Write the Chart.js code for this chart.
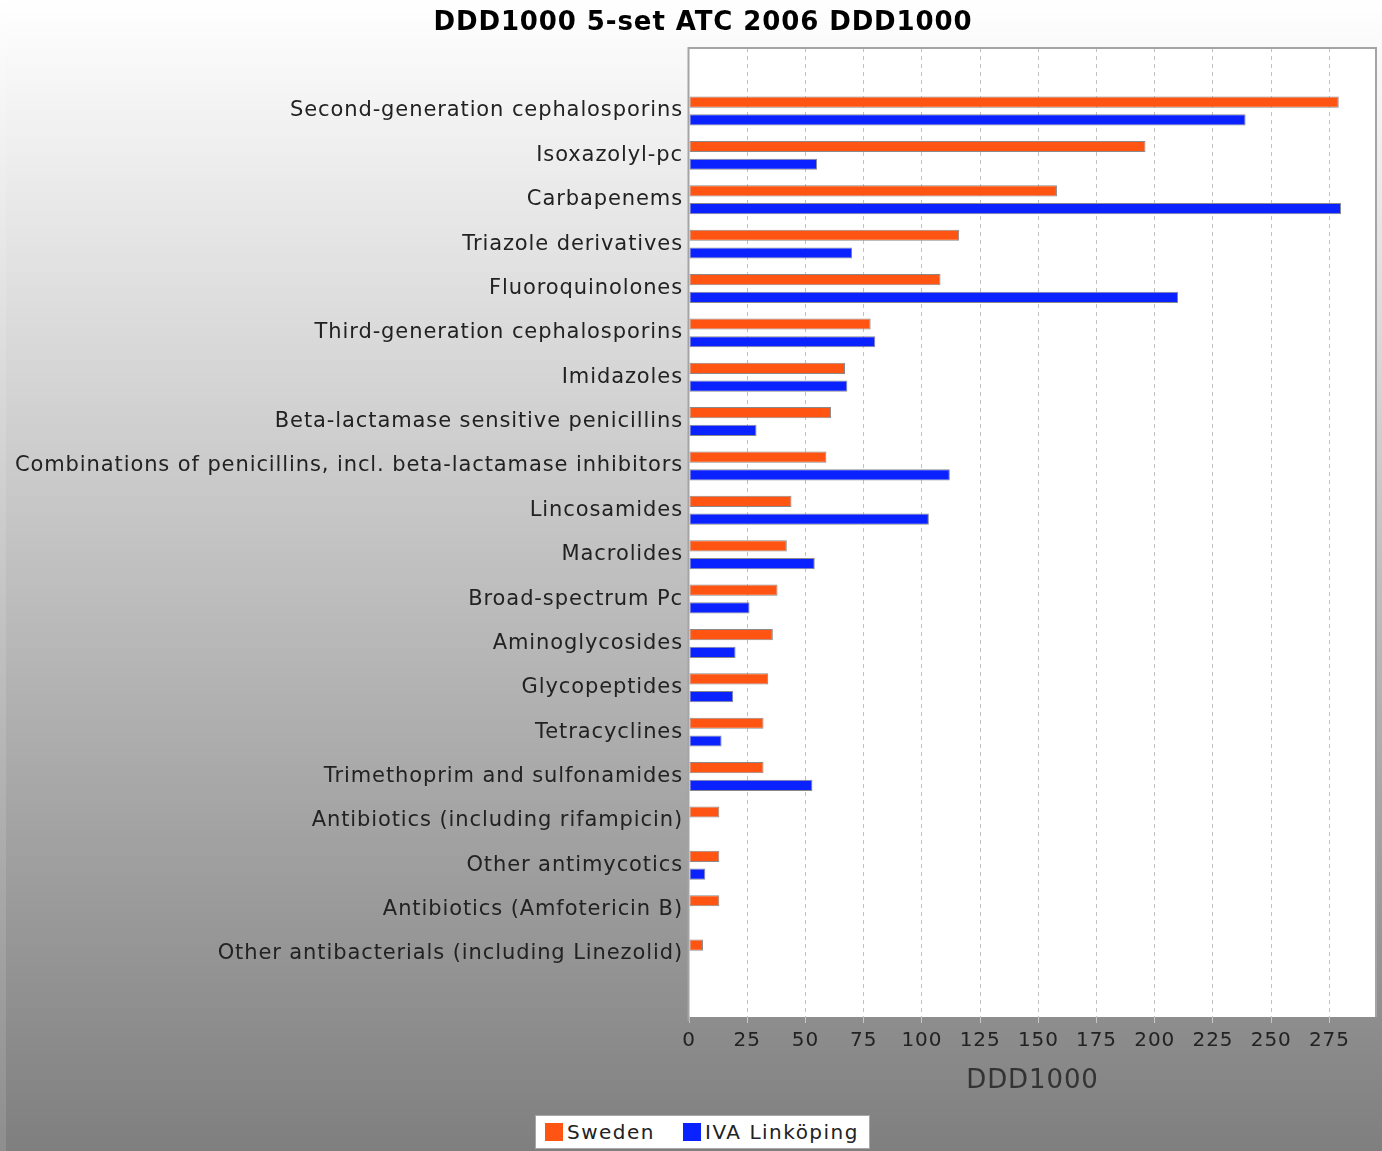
<!DOCTYPE html>
<html>
<head>
<meta charset="utf-8">
<script src="https://cdn.jsdelivr.net/npm/chart.js@4"></script>
<style>
  html, body { margin: 0; padding: 0; }
  body {
    width: 1382px; height: 1151px; overflow: hidden; position: relative;
    background: linear-gradient(#ffffff, #8e8e8e);
  }
  #wrap { position: absolute; left: 6px; top: 0; width: 1376px; height: 1151px; }
  #legenda {
    position: absolute; left: 535px; top: 1115px; height: 34px;
    background: #fff; border: 1px solid #a8a8a8; box-sizing: border-box;
    padding: 0 10px 0 9px; letter-spacing: 1.5px;
    font: 20px "DejaVu Sans"; color: #222; display: flex; align-items: center; white-space: nowrap;
  }
  #legenda span.box { display: inline-block; width: 18px; height: 18px; margin-right: 4px; }
  #legenda span.item { display: inline-flex; align-items: center; margin-right: 28px; }
  #legenda span.item:last-child { margin-right: 0; }
</style>
</head>
<body>
<div id="wrap"><canvas id="grafico" width="1376" height="1151"></canvas></div>
<div id="legenda"></div>
<script>
const titulo = "DDD1000 5-set ATC 2006 DDD1000";

const categorias = [
  "Second-generation cephalosporins",
  "Isoxazolyl-pc",
  "Carbapenems",
  "Triazole derivatives",
  "Fluoroquinolones",
  "Third-generation cephalosporins",
  "Imidazoles",
  "Beta-lactamase sensitive penicillins",
  "Combinations of penicillins, incl. beta-lactamase inhibitors",
  "Lincosamides",
  "Macrolides",
  "Broad-spectrum Pc",
  "Aminoglycosides",
  "Glycopeptides",
  "Tetracyclines",
  "Trimethoprim and sulfonamides",
  "Antibiotics (including rifampicin)",
  "Other antimycotics",
  "Antibiotics (Amfotericin B)",
  "Other antibacterials (including Linezolid)"
];

const sweden = [279, 196, 158, 116, 108, 78, 67, 61, 59, 44, 42, 38, 36, 34, 32, 32, 13, 13, 13, 6];
const ivaLinkoping = [239, 55, 280, 70, 210, 80, 68, 29, 112, 103, 54, 26, 20, 19, 14, 53, 0, 7, 0, 0];

const nomesSeries = ["Sweden", "IVA Linköping"];
const coresSeries = ["#ff5412", "#0a22ff"];

const ticksX = [0, 25, 50, 75, 100, 125, 150, 175, 200, 225, 250, 275];

const fonte = "'DejaVu Sans'";

function pontos(valores) {
  return valores.map((v, i) => ({ x: v, y: i }));
}

// espaçamento entre letras, parecido com o original em Java
const espacamento = {
  id: "espacamento",
  beforeUpdate(chart) { chart.ctx.letterSpacing = "0.9px"; },
  beforeDraw(chart) { chart.ctx.letterSpacing = "0.9px"; }
};

const fundo = {
  id: "fundo",
  beforeDraw(chart) {
    const ctx = chart.ctx;
    const a = chart.chartArea;
    const g = ctx.createLinearGradient(0, 0, 0, chart.height);
    g.addColorStop(0, "#ffffff");
    g.addColorStop(1, "#7f7f7f");
    ctx.save();
    ctx.fillStyle = g;
    ctx.fillRect(0, 0, chart.width, chart.height);
    ctx.fillStyle = "#ffffff";
    ctx.fillRect(a.left, a.top, a.right - a.left, a.bottom - a.top);
    ctx.restore();
  },
  afterDraw(chart) {
    const ctx = chart.ctx;
    const a = chart.chartArea;
    ctx.save();
    ctx.strokeStyle = "#a4a4a4";
    ctx.lineWidth = 2;
    ctx.beginPath();
    ctx.moveTo(a.left - 0.5, a.bottom + 4);
    ctx.lineTo(a.left - 0.5, a.top);
    ctx.lineTo(a.right, a.top);
    ctx.lineTo(a.right, a.bottom);
    ctx.stroke();

    // titulo (um pouco à direita do centro, como no original)
    ctx.fillStyle = "#000";
    ctx.font = "bold 26px " + fonte;
    ctx.textAlign = "center";
    ctx.textBaseline = "middle";
    ctx.fillText(titulo, 697, 23);
    ctx.restore();
  }
};

const ctx = document.getElementById("grafico").getContext("2d");
ctx.letterSpacing = "0.9px";

const chart = new Chart(ctx, {
  type: "bar",
  data: {
    datasets: [
      {
        label: nomesSeries[0],
        data: pontos(sweden),
        backgroundColor: coresSeries[0],
        borderColor: "#8a8a8a",
        borderWidth: 1,
        borderSkipped: false
      },
      {
        label: nomesSeries[1],
        data: pontos(ivaLinkoping),
        backgroundColor: coresSeries[1],
        borderColor: "#8a8a8a",
        borderWidth: 1,
        borderSkipped: false
      }
    ]
  },
  options: {
    indexAxis: "y",
    responsive: false,
    animation: false,
    categoryPercentage: 0.8,
    barPercentage: 0.63,
    layout: { padding: { left: 0, right: 6, top: 48, bottom: 43 } },
    plugins: {
      legend: { display: false },
      tooltip: { enabled: false },
      title: { display: false }
    },
    scales: {
      y: {
        type: "linear",
        reverse: true,
        offset: false,
        min: -1.42,
        max: 20.42,
        grid: { display: false, drawTicks: false },
        border: { display: false },
        afterBuildTicks: s => { s.ticks = categorias.map((_, i) => ({ value: i })); },
        afterFit: s => { s.width = 683; },
        ticks: {
          autoSkip: false,
          padding: 6,
          color: "#222",
          font: { family: fonte, size: 21 },
          callback: v => categorias[v]
        }
      },
      x: {
        type: "linear",
        position: "bottom",
        min: 0,
        max: 295,
        afterBuildTicks: s => { s.ticks = ticksX.map(v => ({ value: v })); },
        afterFit: s => { s.height = 91; },
        grid: {
          color: c => c.tick && c.tick.value === 0 ? "rgba(0,0,0,0)" : "#c0c0c0",
          tickColor: "#c8c8c8",
          tickLength: 6,
          lineWidth: 1
        },
        border: { display: false, dash: [4, 4] },
        ticks: {
          padding: 6,
          color: "#222",
          font: { family: fonte, size: 20 }
        },
        title: {
          display: true,
          text: "DDD1000",
          color: "#333",
          font: { family: fonte, size: 26 },
          padding: { top: 4, bottom: 11 }
        }
      }
    }
  },
  plugins: [espacamento, fundo]
});

// legenda em html
const legenda = document.getElementById("legenda");
chart.data.datasets.forEach(ds => {
  const item = document.createElement("span");
  item.className = "item";
  const box = document.createElement("span");
  box.className = "box";
  box.style.background = ds.backgroundColor;
  item.appendChild(box);
  item.appendChild(document.createTextNode(ds.label));
  legenda.appendChild(item);
});
</script>
</body>
</html>
